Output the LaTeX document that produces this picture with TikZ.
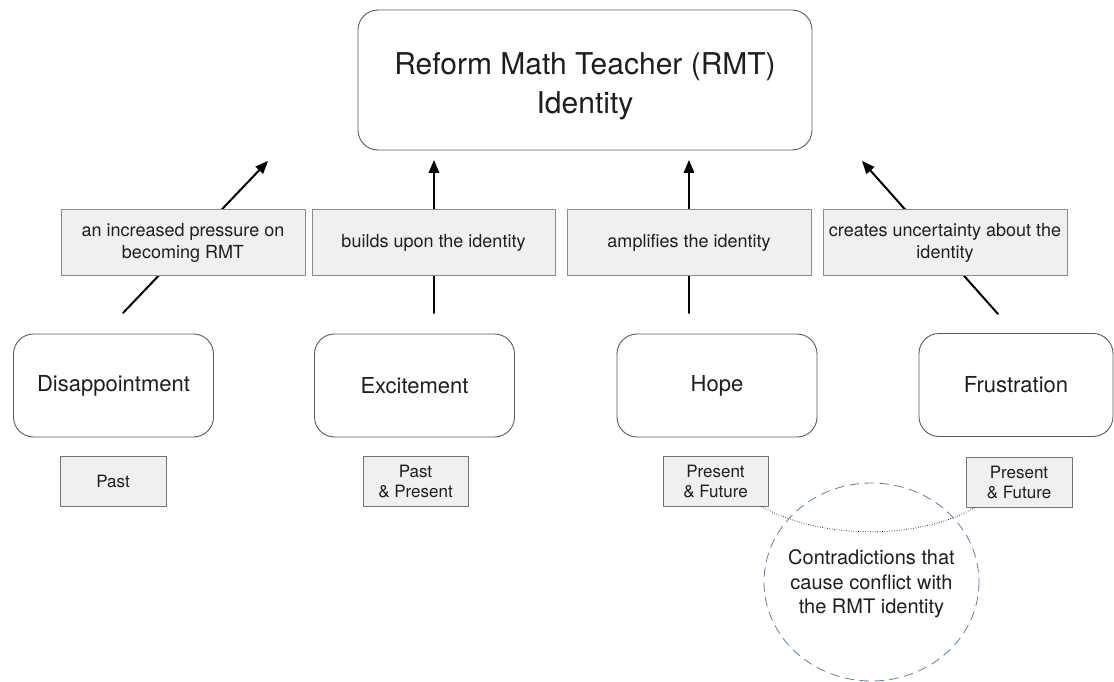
\documentclass[tikz,border=0pt]{standalone}
\usepackage{fontspec}
\setmainfont{TeX Gyre Heros}
\usetikzlibrary{arrows}
\definecolor{vienxam}{HTML}{5A5A5A}
\definecolor{nenxam}{HTML}{F0F0F0}
\definecolor{xanhnhat}{HTML}{5A80A8}
\definecolor{chu}{HTML}{1E1E1E}

\begin{document}
\begin{tikzpicture}[line cap=round,line join=round,>=triangle 45,x=1pt,
y=-1pt,every node/.style={text=chu},
hop/.style={draw=vienxam,rounded corners=20pt,line width=0.9pt,
minimum width=200pt,minimum height=103pt,inner sep=0pt,
font=\fontsize{22}{26}\selectfont},
nhan/.style={draw=black!45,fill=nenxam,line width=1pt,minimum width=244pt,
minimum height=66pt,inner sep=0pt,align=center,
font=\fontsize{18}{22}\selectfont},
thoi/.style={draw=black!55,fill=nenxam,line width=0.9pt,minimum height=50pt,
inner sep=0pt,align=center,font=\fontsize{17}{20}\selectfont},
mui/.style={->,line width=2pt}]
\useasboundingbox (0,0) rectangle (1114,682);
% Hộp trên cùng
\node[hop,minimum width=454pt,minimum height=140pt] (rmt) at (585,80) {};
\node[align=center,font=\fontsize{30}{39}\selectfont] (rmtchu) at (585,86)
{Reform Math Teacher (RMT)\\Identity};
% Các hộp cảm xúc
\node[hop] (dis) at (113.5,385.5) {Disappointment};
\node[hop] (exc) at (414.5,385.5) {Excitement};
\node[hop] (hope) at (717,385.5) {Hope};
\node[hop,minimum width=194pt] (fru) at (1016,385) {Frustration};
% Vẽ các mũi tên (trước, để hộp nhãn đè lên)
\coordinate (a1) at (123,313);
\coordinate (b1) at (268,161);
\coordinate (a2) at (434,313);
\coordinate (b2) at (434,160);
\coordinate (a3) at (689,313);
\coordinate (b3) at (689,160);
\coordinate (a4) at (998,314);
\coordinate (b4) at (862,161);
\draw[mui] (a1) -- (b1);
\draw[mui] (a2) -- (b2);
\draw[mui] (a3) -- (b3);
\draw[mui] (a4) -- (b4);
% Các hộp nhãn
\node[nhan] (n1) at (183,242.5) {an increased pressure on\\becoming RMT};
\node[nhan,minimum width=243pt] (n2) at (433.5,242.5) {builds upon the identity};
\node[nhan] (n3) at (689,242.5) {amplifies the identity};
\node[nhan] (n4) at (945,242.5) {creates uncertainty about the\\identity};
% Các hộp thời gian
\node[thoi,minimum width=106pt] (t1) at (113,481) {Past};
\node[thoi,minimum width=105pt] (t2) at (415.5,481) {Past\\\& Present};
\node[thoi,minimum width=105pt] (t3) at (715.5,481) {Present\\\& Future};
\node[thoi,minimum width=106pt] (t4) at (1019,482) {Present\\\& Future};
% Đường chấm nối hai hộp
\draw[line width=0.8pt,dash pattern=on 0.6pt off 1.8pt,line cap=butt]
([xshift=-7pt]t3.south east)
.. controls (820,540) and (920,540) .. ([xshift=9pt]t4.south west);
% Vòng tròn nét đứt
\node[align=center,font=\fontsize{20}{24.5}\selectfont] (mau) at (871.5,584)
{Contradictions that\\cause conflict with\\the RMT identity};
\draw[xanhnhat,line width=0.8pt,dash pattern=on 9pt off 6pt]
(871.5,582) ellipse (107.5 and 99);
\end{tikzpicture}
\end{document}
